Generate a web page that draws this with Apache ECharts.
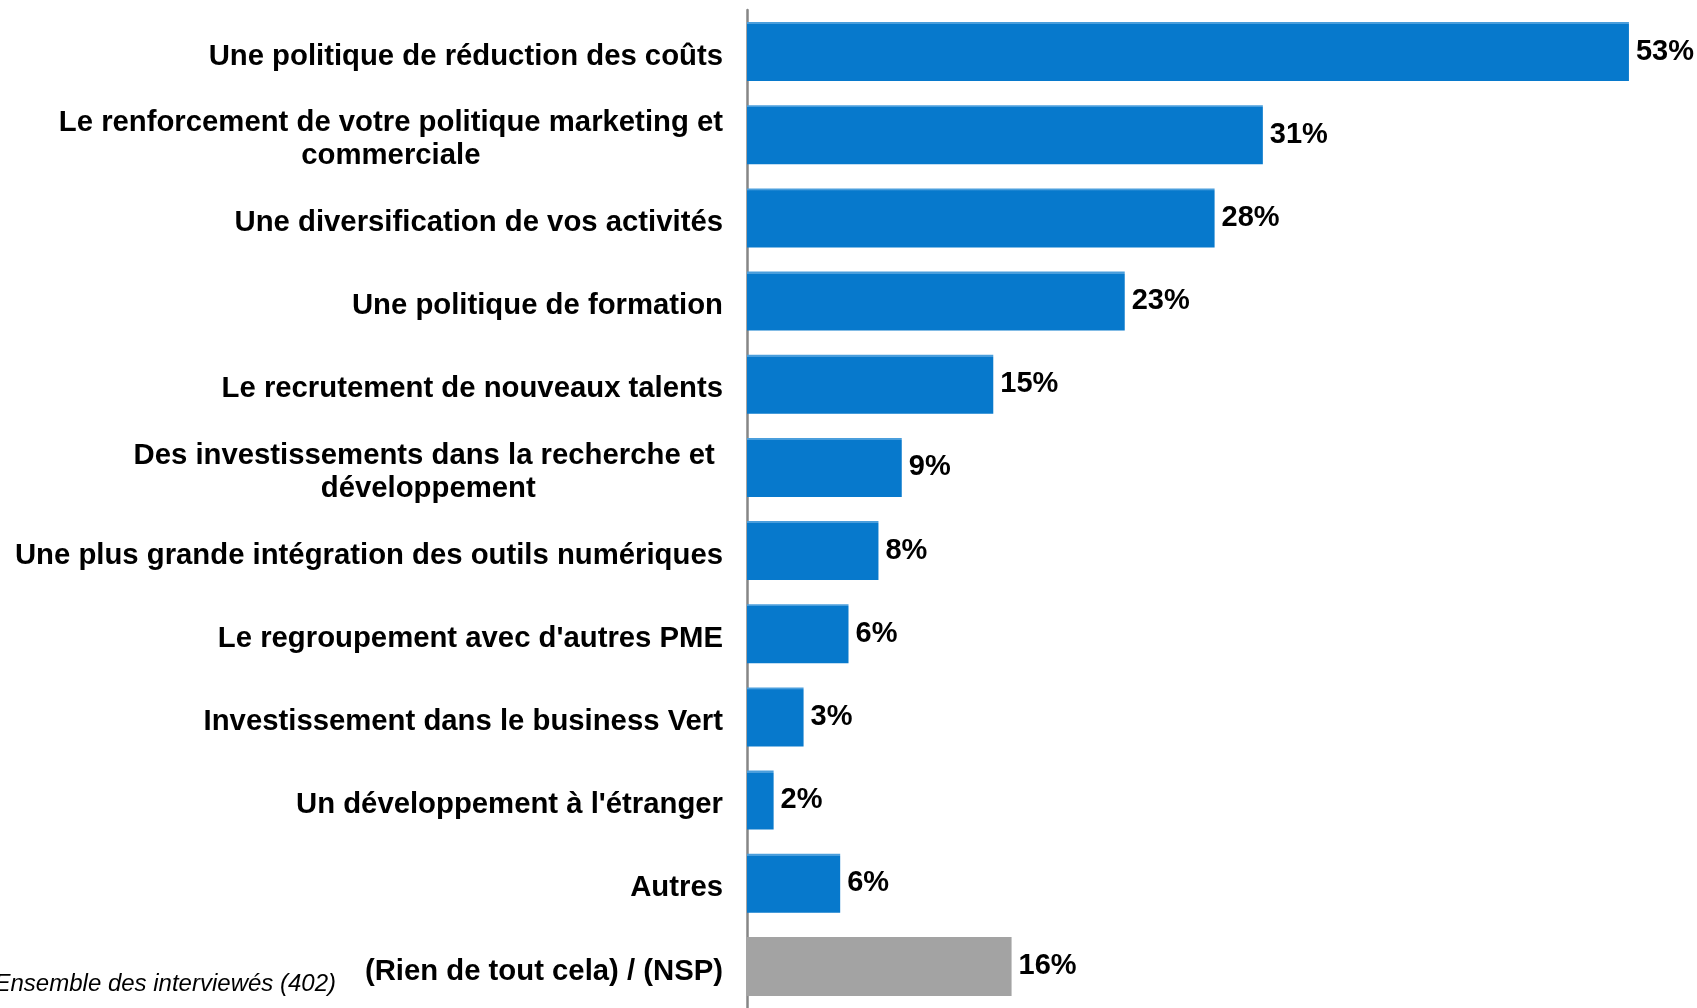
<!DOCTYPE html>
<html>
<head>
<meta charset="utf-8">
<script src="https://cdn.jsdelivr.net/npm/echarts@6/dist/echarts.min.js"></script>
<style>
  html, body { margin: 0; padding: 0; background: #fff; }
  #chart { width: 1697px; height: 1008px; }
</style>
</head>
<body>
<div id="chart"></div>
<script>
// categories, top to bottom
var categories = [
  'Une politique de réduction des coûts',
  'Le renforcement de votre politique marketing et\ncommerciale',
  'Une diversification de vos activités',
  'Une politique de formation',
  'Le recrutement de nouveaux talents',
  'Des investissements dans la recherche et \ndéveloppement',
  'Une plus grande intégration des outils numériques',
  "Le regroupement avec d'autres PME",
  'Investissement dans le business Vert',
  "Un développement à l'étranger",
  'Autres',
  '(Rien de tout cela) / (NSP)'
];
// bar lengths (labels show them rounded)
var values = [53, 31, 28.1, 22.7, 14.8, 9.3, 7.9, 6.1, 3.4, 1.6, 5.6, 15.9];
var isNone = [false, false, false, false, false, false, false, false, false, false, false, true];
var footnote = 'Ensemble des interviewés (402)';

var blue = {
  type: 'linear', x: 0, y: 0, x2: 0, y2: 1,
  colorStops: [
    {offset: 0, color: '#4A9EDC'},
    {offset: 0.035, color: '#4A9EDC'},
    {offset: 0.036, color: '#0779CC'},
    {offset: 1, color: '#0779CC'}
  ]
};

var chart = echarts.init(document.getElementById('chart'));
chart.setOption({
  animation: false,
  grid: { left: 747, right: 1.5, top: 10, height: 1003 },
  xAxis: {
    type: 'value', min: 0, max: 57,
    show: false
  },
  yAxis: {
    type: 'category',
    inverse: true,
    data: categories,
    axisLine: { lineStyle: { color: '#868686', width: 2.5 } },
    axisTick: { length: 7, lineStyle: { color: '#868686', width: 2 } },
    axisLabel: {
      margin: 24,
      padding: [10, 0, 0, 0],
      formatter: function (v) {
        return v.split('\n').map(function (l) { return '{c|' + l + '}'; }).join('\n');
      },
      rich: {
        c: {
          align: 'center',
          fontFamily: '"Liberation Sans", Arial, sans-serif',
          fontWeight: 'bold',
          fontSize: 29.3,
          lineHeight: 33,
          color: '#000'
        }
      }
    }
  },
  series: [{
    type: 'bar',
    barCategoryGap: '29%',
    data: values.map(function (v, i) {
      return { value: v, itemStyle: { color: isNone[i] ? '#A3A3A3' : blue } };
    }),
    label: {
      show: true,
      position: 'right',
      distance: 7,
      padding: [4, 0, 0, 0],
      formatter: function (p) { return Math.round(p.value) + '%'; },
      fontFamily: '"Liberation Sans", Arial, sans-serif',
      fontWeight: 'bold',
      fontSize: 29,
      color: '#000'
    }
  }],
  graphic: [{
    type: 'text',
    right: 1697 - 336,
    top: 972,
    style: {
      text: footnote,
      fontFamily: '"Liberation Sans", Arial, sans-serif',
      fontStyle: 'italic',
      fontSize: 24,
      fill: '#000'
    }
  }]
});
</script>
</body>
</html>
